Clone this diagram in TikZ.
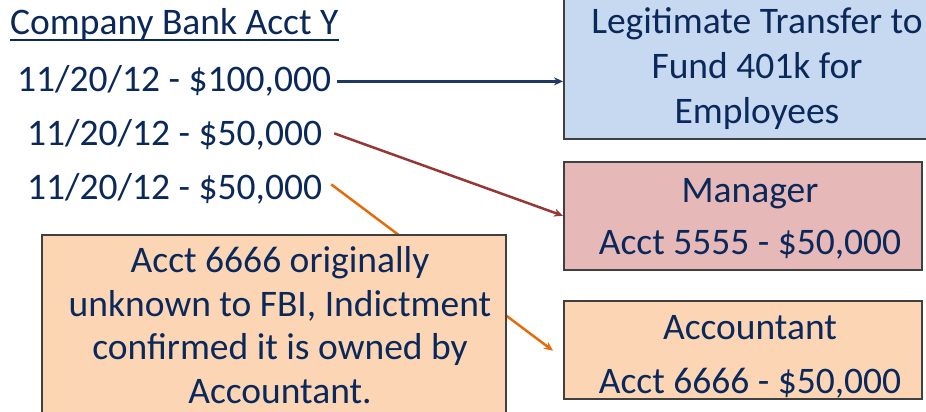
\documentclass[tikz,border=0pt]{standalone}
\usepackage{fontspec}
\setmainfont{Carlito}
\usetikzlibrary{arrows.meta}
\definecolor{txt}{RGB}{10,40,90}
\definecolor{boxline}{RGB}{64,64,64}
\definecolor{bluefill}{RGB}{198,217,241}
\definecolor{redfill}{RGB}{230,185,184}
\definecolor{orangefill}{RGB}{252,213,181}
\definecolor{bluearrow}{RGB}{31,56,100}
\definecolor{redarrow}{RGB}{149,55,53}
\definecolor{orangearrow}{RGB}{228,108,10}
\begin{document}
\begin{tikzpicture}[x=1pt,y=-1pt,
  every node/.style={text=txt, inner sep=0pt, font=\fontsize{37.5}{45}\selectfont},
  box/.style={draw=boxline, line width=1.5pt, anchor=north west},
  conn/.style={line width=2.5pt, -{Stealth[length=9pt,width=8pt]}}]
\useasboundingbox (0,0) rectangle (926,412);
\clip (0,0) rectangle (926,412);
% title and lines
\node[anchor=base west] (title) at (10,35) {Company Bank Acct Y};
\draw[txt, line width=1.5pt] ([yshift=-5pt]title.base west) -- ([yshift=-5pt]title.base east);
\node[anchor=base west] (l1) at (17,92) {11/20/12 - \$100,000};
\node[anchor=base west] (l2) at (27,145) {11/20/12 - \$50,000};
\node[anchor=base west] (l3) at (27,199) {11/20/12 - \$50,000};
% boxes
\node[box, fill=bluefill, minimum width=365pt, minimum height=140pt] (blue) at (563,-2) {};
\node[box, fill=redfill, minimum width=358pt, minimum height=108pt] (mgr) at (563,161) {};
\node[box, fill=orangefill, minimum width=358pt, minimum height=98pt] (acc) at (563,300) {};
\node[align=center] (bluetext) at (757,69) {Legitimate Transfer to\\Fund 401k for\\Employees};
\node[align=center, font=\fontsize{37.5}{52}\selectfont] (mgrtext) at (750,219) {Manager\\Acct 5555 - \$50,000};
\node[align=center, font=\fontsize{37.5}{54}\selectfont] (acctext) at (750,357) {Accountant\\Acct 6666 - \$50,000};
% connectors
\coordinate (s1) at ([xshift=6pt]l1.east);
\coordinate (s2) at ([xshift=12pt,yshift=1pt]l2.east);
\coordinate (s3) at ([xshift=9pt,yshift=4pt]l3.east);
\coordinate (e3) at ([xshift=-10pt,yshift=-1pt]acc.west);
\draw[conn, bluearrow] (s1) -- (s1 -| blue.west);
\draw[conn, redarrow] (s2) -- (mgr.west);
\draw[conn, orangearrow] (s3) -- (e3);
% note box on top of orange connector
\node[box, fill=orangefill, minimum width=464pt, minimum height=200pt] (note) at (41,234) {};
\node[align=center, font=\fontsize{37.5}{43.5}\selectfont] (notetext) at (280,325) {Acct 6666 originally\\unknown to FBI, Indictment\\confirmed it is owned by\\Accountant.};
\end{tikzpicture}
\end{document}
